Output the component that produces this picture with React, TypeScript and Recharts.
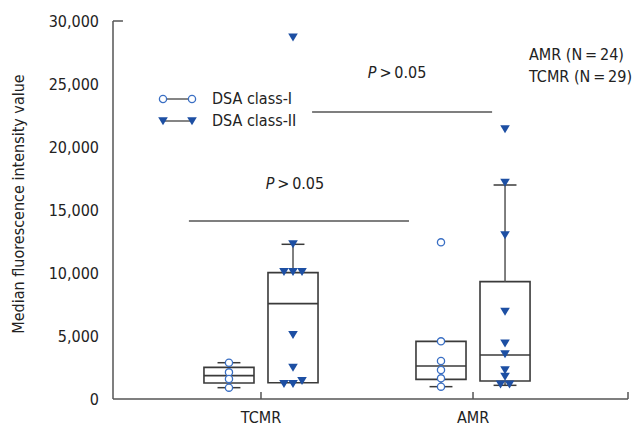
import React from 'react';
import {
  ComposedChart, XAxis, YAxis, Scatter, ReferenceArea, ReferenceLine, ReferenceDot, Label,
} from 'recharts';

// ---------- data ----------
const groups = ['TCMR', 'AMR'];
const seriesNames = ['DSA class-I', 'DSA class-II'];
const yTicks = [0, 5000, 10000, 15000, 20000, 25000, 30000];

// box statistics per group (TCMR, AMR)
const class1Min = [899, 979];
const class1Q1 = [1270, 1561];
const class1Median = [1852, 2619];
const class1Q3 = [2513, 4577];
const class1Max = [2880, 4577];

const class2Min = [1294, 1085];
const class2Q1 = [1294, 1428];
const class2Median = [7566, 3492];
const class2Q3 = [10026, 9312];
const class2Max = [12278, 16984];

// individual points
const class1TCMR = [2880, 2116, 1587, 899];
const class1AMR = [12433, 4577, 3016, 2302, 1640, 979];
const class2TCMR = [28700, 12300, 10100, 10100, 10100, 5100, 2500, 1200, 1200, 1450];
const class2AMR = [21429, 17170, 13016, 6931, 4418, 3571, 2302, 1772, 1164, 1164];

// ---------- layout ----------
const W = 634;
const H = 429;
const X_MIN = 0.302;
const X_MAX = 2.731;
const CLASS_OFFSET = 0.151;
const BOX_HALF = 0.118;
const CAP_HALF = 0.054;
const JITTER = 0.0425;
const FONT = '"Liberation Sans Narrow", "DejaVu Sans Condensed", "Roboto Condensed", "Liberation Sans", sans-serif';
const TEXT = '#222';
const BLUE = '#1d4fa3';
const CIRCLE_BLUE = '#3a6fc4';
const BOX = '#3a3a3a';
const AXIS = '#555';

function jitterOffsets(values: number[]): number[] {
  const out: number[] = new Array(values.length).fill(0);
  let start = 0;
  while (start < values.length) {
    let end = start + 1;
    while (end < values.length && Math.abs(values[end] - values[start]) < 300) end++;
    const n = end - start;
    for (let k = 0; k < n; k++) out[start + k] = (k - (n - 1) / 2) * JITTER;
    start = end;
  }
  return out;
}

function buildPoints(lists: number[][], sign: number) {
  const pts: { x: number; y: number }[] = [];
  lists.forEach((vals, gi) => {
    const offs = jitterOffsets(vals);
    vals.forEach((v, i) => pts.push({ x: gi + 1 + sign * CLASS_OFFSET + offs[i], y: v }));
  });
  return pts;
}

const class1Points = buildPoints([class1TCMR, class1AMR], -1);
const class2Points = buildPoints([class2TCMR, class2AMR], 1);

const boxes = [
  { sign: -1, min: class1Min, q1: class1Q1, med: class1Median, q3: class1Q3, max: class1Max },
  { sign: 1, min: class2Min, q1: class2Q1, med: class2Median, q3: class2Q3, max: class2Max },
];

const CircleShape = (p: any) => (
  <circle cx={p.cx} cy={p.cy} r={3.6} fill="#fff" stroke={CIRCLE_BLUE} strokeWidth={1.3} />
);
const TriangleShape = (p: any) => (
  <path
    d={`M${p.cx - 4.8},${p.cy - 3.8} L${p.cx + 4.8},${p.cy - 3.8} L${p.cx},${p.cy + 4.2} Z`}
    fill={BLUE}
  />
);

const XTick = (p: any) => {
  const { x, y, payload } = p;
  const idx = payload.value === 1 ? 0 : payload.value === 2 ? 1 : -1;
  return (
    <g>
      <line x1={x} y1={y} x2={x} y2={y - 7} stroke={AXIS} strokeWidth={1.5} />
      {idx >= 0 && (
        <text x={x} y={y + 24} textAnchor="middle" fill={TEXT} fontSize={16} fontFamily={FONT}>
          {groups[idx]}
        </text>
      )}
    </g>
  );
};

const LegendBox = () => (
  <div style={{ position: 'absolute', left: 157, top: 88, fontFamily: FONT, fontSize: 16, color: TEXT }}>
    {seriesNames.map((name, i) => (
      <div key={name} style={{ display: 'flex', alignItems: 'center', height: 22 }}>
        <svg width={48} height={14}>
          <line x1={6} y1={7} x2={35} y2={7} stroke="#333" strokeWidth={1.2} />
          {i === 0 ? (
            <>
              <circle cx={6} cy={7} r={3.6} fill="#fff" stroke={CIRCLE_BLUE} strokeWidth={1.3} />
              <circle cx={35} cy={7} r={3.6} fill="#fff" stroke={CIRCLE_BLUE} strokeWidth={1.3} />
            </>
          ) : (
            <>
              <path d="M1.2,3.2 L10.8,3.2 L6,11.2 Z" fill={BLUE} />
              <path d="M30.2,3.2 L39.8,3.2 L35,11.2 Z" fill={BLUE} />
            </>
          )}
        </svg>
        <span style={{ marginLeft: 7, lineHeight: '22px' }}>{name}</span>
      </div>
    ))}
  </div>
);

const TextAt = (content: React.ReactNode, anchor: string) => (p: any) => (
  <text x={p.cx} y={p.cy} textAnchor={anchor} fill={TEXT} fontSize={16} fontFamily={FONT}>
    {content}
  </text>
);

const pText = (
  <>
    <tspan fontStyle="italic">P</tspan>
    <tspan>{'\u2009>\u20090.05'}</tspan>
  </>
);

export default function App() {
  return (
    <div style={{ position: 'absolute', left: 0, top: 0, width: W, height: H, background: '#fff' }}>
      <ComposedChart width={W} height={H} margin={{ top: 21, right: 6, bottom: 0, left: 13 }}>
        <XAxis
          type="number"
          dataKey="x"
          domain={[X_MIN, X_MAX]}
          allowDataOverflow
          ticks={[1, 2, X_MAX]}
          interval={0}
          height={30}
          tickLine={false}
          tickSize={0}
          tickMargin={0}
          axisLine={{ stroke: AXIS, strokeWidth: 1.5 }}
          tick={<XTick />}
        />
        <YAxis
          type="number"
          dataKey="y"
          domain={[0, 30000]}
          ticks={yTicks}
          interval={0}
          width={100}
          tickLine={false}
          tickSize={14}
          tickMargin={0}
          axisLine={{ stroke: AXIS, strokeWidth: 1.5 }}
          tick={{ fill: TEXT, fontSize: 16, fontFamily: FONT }}
          tickFormatter={(v: number) => v.toLocaleString('en-US')}
        >
          <Label
            content={(props: any) => {
              const vb = props.viewBox;
              const cx = 18;
              const cy = vb.y + vb.height / 2 - 6;
              return (
                <text
                  x={cx}
                  y={cy}
                  transform={`rotate(-90 ${cx} ${cy})`}
                  textAnchor="middle"
                  dominantBaseline="central"
                  fill={TEXT}
                  fontSize={16}
                  fontFamily={FONT}
                >
                  Median fluorescence intensity value
                </text>
              );
            }}
          />
        </YAxis>

        {/* top inner tick */}
        <ReferenceLine
          segment={[{ x: X_MIN, y: 30000 }, { x: X_MIN + 0.047, y: 30000 }]}
          stroke={AXIS}
          strokeWidth={1.5}
        />

        {/* boxes */}
        {boxes.map((b) =>
          groups.map((g, gi) => {
            const c = gi + 1 + b.sign * CLASS_OFFSET;
            const k = `${b.sign}-${g}`;
            const els = [
              <ReferenceLine key={`wu${k}`} segment={[{ x: c, y: b.q3[gi] }, { x: c, y: b.max[gi] }]} stroke={AXIS} strokeWidth={1.5} />,
              <ReferenceLine key={`wl${k}`} segment={[{ x: c, y: b.min[gi] }, { x: c, y: b.q1[gi] }]} stroke={AXIS} strokeWidth={1.5} />,
              <ReferenceArea key={`b${k}`} x1={c - BOX_HALF} x2={c + BOX_HALF} y1={b.q1[gi]} y2={b.q3[gi]} fill="none" fillOpacity={0} stroke={BOX} strokeWidth={1.6} strokeOpacity={1} />,
              <ReferenceLine key={`m${k}`} segment={[{ x: c - BOX_HALF, y: b.med[gi] }, { x: c + BOX_HALF, y: b.med[gi] }]} stroke={BOX} strokeWidth={1.6} />,
            ];
            if (b.max[gi] > b.q3[gi])
              els.push(<ReferenceLine key={`cu${k}`} segment={[{ x: c - CAP_HALF, y: b.max[gi] }, { x: c + CAP_HALF, y: b.max[gi] }]} stroke={BOX} strokeWidth={1.5} />);
            if (b.min[gi] < b.q1[gi])
              els.push(<ReferenceLine key={`cl${k}`} segment={[{ x: c - CAP_HALF, y: b.min[gi] }, { x: c + CAP_HALF, y: b.min[gi] }]} stroke={BOX} strokeWidth={1.5} />);
            return els;
          })
        )}

        {/* significance lines */}
        <ReferenceLine segment={[{ x: 1.241, y: 22778 }, { x: 2.09, y: 22778 }]} stroke={AXIS} strokeWidth={1.5} />
        <ReferenceLine segment={[{ x: 0.66, y: 14127 }, { x: 1.698, y: 14127 }]} stroke={AXIS} strokeWidth={1.5} />
        <ReferenceDot x={1.642} y={25476} r={0} shape={TextAt(pText, 'middle')} />
        <ReferenceDot x={1.16} y={16667} r={0} shape={TextAt(pText, 'middle')} />
        <ReferenceDot x={2.264} y={26905} r={0} shape={TextAt('AMR (N\u2009=\u200924)', 'start')} />
        <ReferenceDot x={2.264} y={25159} r={0} shape={TextAt('TCMR (N\u2009=\u200929)', 'start')} />

        <Scatter name={seriesNames[0]} data={class1Points} dataKey="y" shape={CircleShape} isAnimationActive={false} />
        <Scatter name={seriesNames[1]} data={class2Points} dataKey="y" shape={TriangleShape} isAnimationActive={false} />
      </ComposedChart>
      <LegendBox />
    </div>
  );
}
